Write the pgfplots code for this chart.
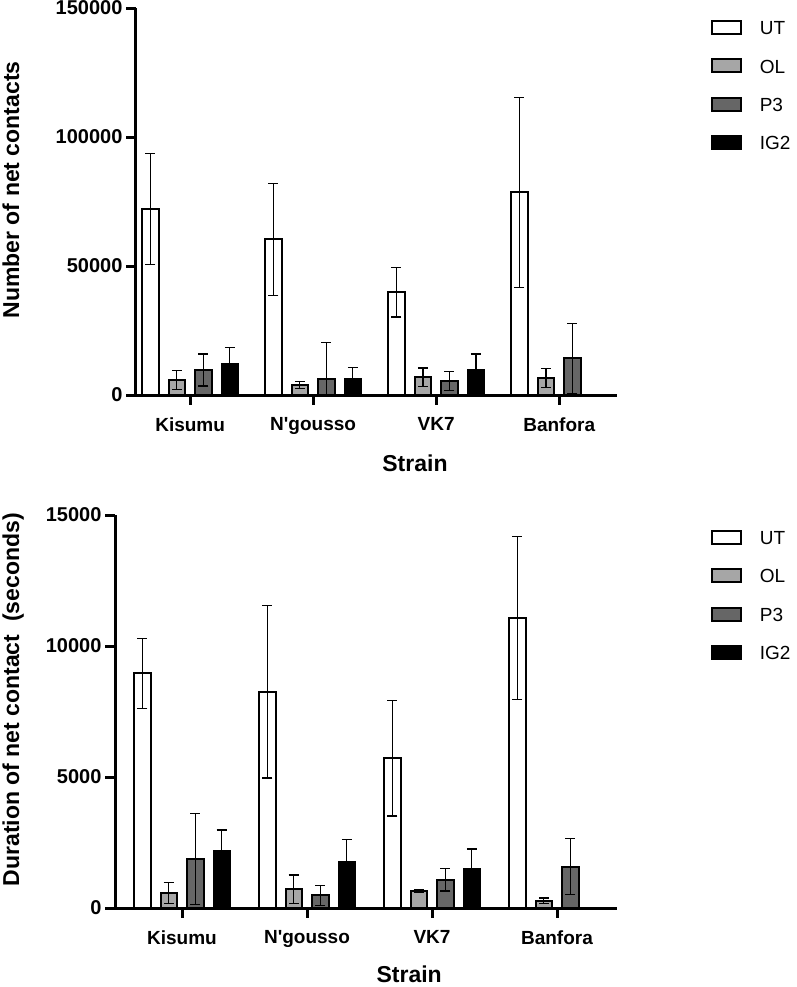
\documentclass[border=0pt]{standalone}
\usepackage{fontspec}
\setmainfont{Liberation Sans}[Ligatures=TeXOff]
\usepackage{pgfplots}
\usepackage{pgfplotstable}
\pgfplotsset{compat=1.18}

\definecolor{olgray}{RGB}{166,166,166}
\definecolor{ptgray}{RGB}{102,102,102}

% number of net contacts: mean and error per strain
\pgfplotstableread{
g ut    ute   ol   ole  p3    p3e   ig    ige
0 72000 21500 5800 3600 9700  6200  11900 6600
1 60300 21800 3900 1400 6100  14200 6300  4400
2 39800 9600  6900 3600 5400  3600  9700  6200
3 78600 36800 6700 3700 14200 13500 nan   nan
}\contacts

% duration of net contact (seconds)
\pgfplotstableread{
g ut    ute  ol  ole p3   p3e  ig   ige
0 8960  1340 580 400 1870 1750 2180 800
1 8260  3300 720 540 480  390  1740 870
2 5710  2200 650 60  1080 430  1500 750
3 11070 3100 280 100 1580 1070 nan  nan
}\duration

\newcommand{\labfont}{\bfseries\fontsize{11.5}{13}\selectfont}

\pgfplotsset{
  panel/.style={
    scale only axis,
    ybar=5pt, bar width=8.25pt,
    axis x line*=bottom, axis y line*=left,
    axis line style={line width=1.5pt, -},
    tick align=outside, major tick length=4.75pt,
    tick style={line width=1.5pt, black},
    xtick={0,1,2,3},
    xticklabels={Kisumu,N'gousso,VK7,Banfora},
    ymin=0,
    scaled y ticks=false,
    /pgf/number format/fixed,
    /pgf/number format/precision=0,
    /pgf/number format/assume math mode=true,
    /pgf/number format/1000 sep={},
    yticklabel style={font=\bfseries\fontsize{10}{12}\selectfont, xshift=1.5pt},
    xticklabel style={font=\bfseries\fontsize{9.5}{11}\selectfont, yshift=-3pt},
    legend image code/.code={\draw[##1, line width=1pt] (0pt,-3.15pt) rectangle (14.5pt,3.35pt);},
    legend style={draw=none, fill=none, inner sep=0pt, outer sep=0pt,
      anchor=north west, row sep=11.65pt, column sep=9pt,
      font=\fontsize{9.5}{11}\selectfont,
      nodes={inner sep=0pt, text height=7pt, text depth=0pt}},
    legend cell align=left,
  },
  bars/.style={draw=black, line width=1pt,
    error bars/y dir=both, error bars/y explicit,
    error bars/error bar style={line width=0.6pt, black},
    error bars/error mark options={line width=0.6pt, black, mark size=2.5pt, rotate=90}},
}

\begin{document}
\begin{tikzpicture}
\useasboundingbox (0,0) rectangle (398.5pt,-493.5pt);

\begin{axis}[panel,
  at={(68pt,-197.5pt)}, anchor=south west,
  width=240.5pt, height=193.5pt,
  xmin=-0.44, xmax=3.47,
  ymax=150000, ytick={0,50000,100000,150000},
  xlabel={Strain}, ylabel={Number of net contacts},
  every axis x label/.style={at={(axis description cs:0.58,-0.176)}, anchor=center, font=\labfont},
  every axis y label/.style={at={(axis description cs:-0.26,0.53)}, rotate=90, anchor=center, font=\labfont},
  legend style={at={(axis description cs:1.195,0.969)}},
]
\addplot[fill=white, bars] table[x=g, y=ut, y error=ute] {\contacts};
\addplot[fill=olgray, bars] table[x=g, y=ol, y error=ole] {\contacts};
\addplot[fill=ptgray, bars] table[x=g, y=p3, y error=p3e] {\contacts};
\addplot[fill=black, bars] table[x=g, y=ig, y error=ige] {\contacts};
\legend{UT,OL,P3,IG2}
\end{axis}

\begin{axis}[panel,
  at={(57.5pt,-454pt)}, anchor=south west,
  width=251pt, height=196.5pt,
  xmin=-0.536, xmax=3.48,
  ymax=15000, ytick={0,5000,10000,15000},
  xlabel={Strain}, ylabel={Duration of net contact\ \ (seconds)},
  every axis x label/.style={at={(axis description cs:0.586,-0.168)}, anchor=center, font=\labfont},
  every axis y label/.style={at={(axis description cs:-0.203,0.53)}, rotate=90, anchor=center, font=\labfont},
  legend style={at={(axis description cs:1.187,0.962)}},
]
\addplot[fill=white, bars] table[x=g, y=ut, y error=ute] {\duration};
\addplot[fill=olgray, bars] table[x=g, y=ol, y error=ole] {\duration};
\addplot[fill=ptgray, bars] table[x=g, y=p3, y error=p3e] {\duration};
\addplot[fill=black, bars] table[x=g, y=ig, y error=ige] {\duration};
\legend{UT,OL,P3,IG2}
\end{axis}
\end{tikzpicture}
\end{document}
